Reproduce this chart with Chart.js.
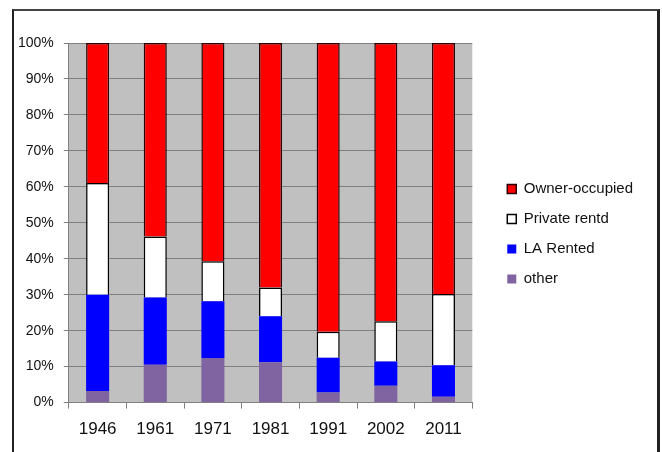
<!DOCTYPE html>
<html>
<head>
<meta charset="utf-8">
<script src="https://cdn.jsdelivr.net/npm/chart.js@4"></script>
<style>
  html, body { margin: 0; padding: 0; background: #fff; }
  #wrap { position: relative; width: 662px; height: 452px; }
  #frame {
    position: absolute; left: 12px; top: 9px; width: 643px; height: 460px;
    border-top: 2px solid #444; border-left: 2px solid #222; border-right: 3px solid #222;
    pointer-events: none;
  }
</style>
</head>
<body>
<div id="wrap">
  <canvas id="tenureChart" width="662" height="452"></canvas>
  <div id="frame"></div>
</div>
<script>
// Housing tenure share by census year (%)
const years = ['1946', '1961', '1971', '1981', '1991', '2002', '2011'];
const ownerOccupied = [38.9, 53.8, 60.7, 68.0, 80.3, 77.4, 69.8];
const privateRented = [31.1, 17.0, 11.1, 8.0, 7.2, 11.2, 19.8];
const laRented = [26.8, 18.7, 15.8, 12.8, 9.7, 6.7, 8.8];
const other = [3.2, 10.5, 12.4, 11.2, 2.8, 4.7, 1.6];
const yTicks = [0, 10, 20, 30, 40, 50, 60, 70, 80, 90, 100];

const LEGEND_GAP = 20;

// grey plot area like the original spreadsheet chart
const plotBackground = {
    id: 'plotBackground',
    beforeDraw(chart) {
        const { ctx, chartArea: a } = chart;
        ctx.save();
        ctx.fillStyle = '#c0c0c0';
        ctx.fillRect(a.left, a.top, a.right - a.left, a.bottom - a.top);
        ctx.restore();
    }
};

// leave some room between the plot and the legend, and lift the legend a bit
const legendGap = {
    id: 'legendGap',
    afterInit(chart) {
        const legend = chart.legend;
        const fit = legend.fit.bind(legend);
        legend.fit = function () {
            fit();
            this.width += LEGEND_GAP;
        };
    },
    afterLayout(chart) {
        const legend = chart.legend;
        legend.left += LEGEND_GAP;
        legend.top -= 13;
        legend.bottom -= 13;
    }
};

const data = {
    labels: years,
    datasets: [
        { label: 'other', data: other, backgroundColor: '#8064a2', borderWidth: 0 },
        { label: 'LA Rented', data: laRented, backgroundColor: '#0000ff', borderWidth: 0 },
        { label: 'Private rentd', data: privateRented, backgroundColor: '#ffffff', borderColor: '#000', borderWidth: 1.5 },
        { label: 'Owner-occupied', data: ownerOccupied, backgroundColor: '#ff0000', borderColor: '#2a0000', borderWidth: 1.5 }
    ]
};

const config = {
    type: 'bar',
    data: data,
    plugins: [plotBackground, legendGap],
    options: {
        responsive: false,
        animation: false,
        categoryPercentage: 0.8,
        barPercentage: 0.5,
        layout: { padding: { left: 8, top: 43, right: 19, bottom: 1 } },
        plugins: {
            legend: {
                position: 'right',
                reverse: true,
                labels: {
                    boxWidth: 9,
                    boxHeight: 9,
                    padding: 15,
                    color: '#111',
                    font: { family: 'Liberation Sans', size: 15 }
                }
            },
            tooltip: { enabled: false }
        },
        scales: {
            x: {
                stacked: true,
                grid: { drawOnChartArea: false, color: '#808080', tickLength: 6 },
                border: { color: '#808080' },
                ticks: { color: '#111', padding: 11, font: { family: 'Liberation Sans', size: 17 } }
            },
            y: {
                stacked: true,
                min: 0,
                max: 100,
                afterBuildTicks: (s) => { s.ticks = yTicks.map(v => ({ value: v })); },
                grid: { color: '#808080', tickLength: 5 },
                border: { color: '#808080' },
                ticks: {
                    color: '#111',
                    padding: 10,
                    font: { family: 'Liberation Sans', size: 14 },
                    callback: (v) => v + '%'
                }
            }
        }
    }
};

const tenureChart = new Chart(document.getElementById('tenureChart'), config);
</script>
</body>
</html>
